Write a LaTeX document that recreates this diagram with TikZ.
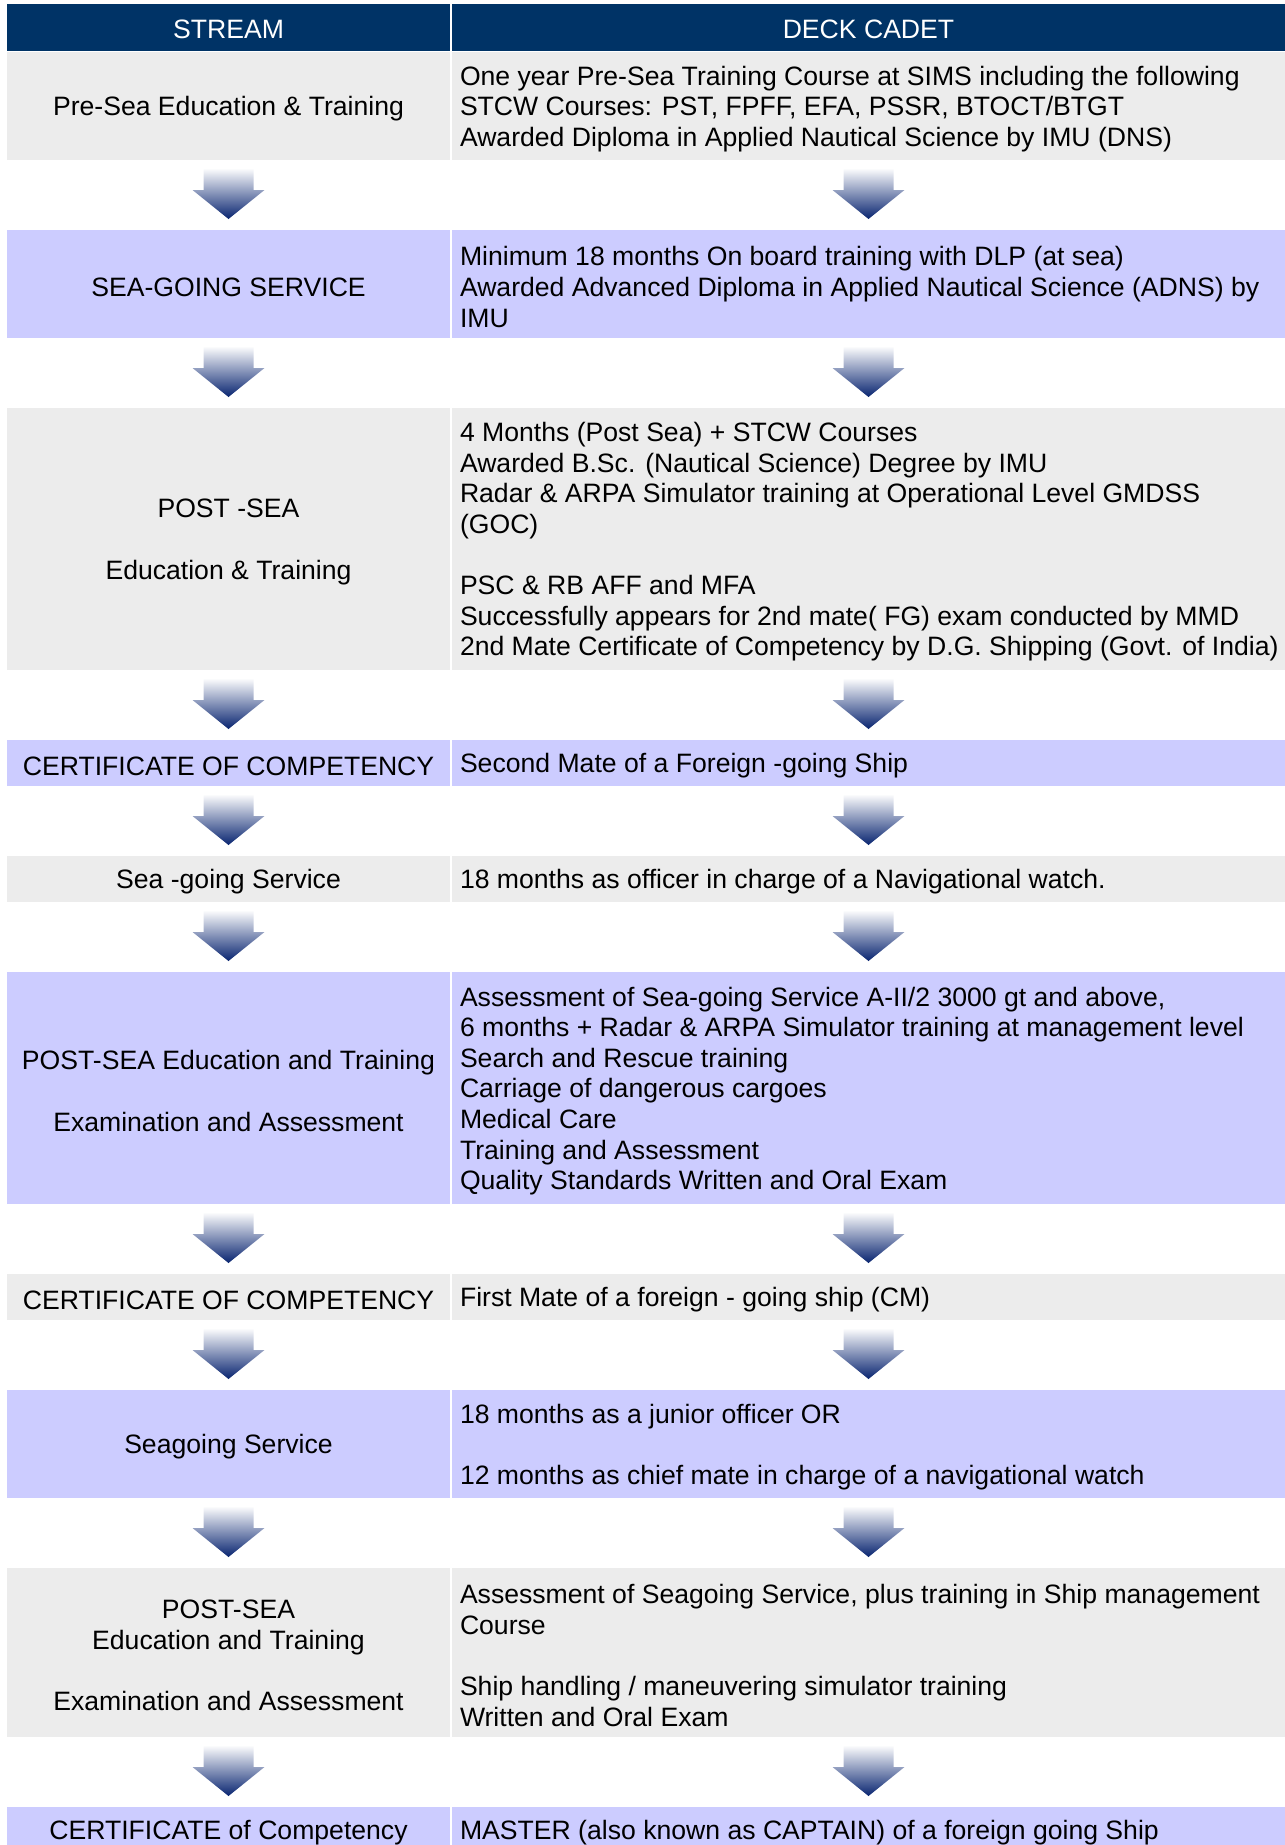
\documentclass[tikz,border=0pt]{standalone}
\usepackage{fontspec}
\setmainfont{Liberation Sans}
\usetikzlibrary{calc}
\definecolor{headblue}{RGB}{0,51,102}
\definecolor{rowgrey}{RGB}{236,236,236}
\definecolor{rowlav}{RGB}{204,204,255}
\definecolor{arrowblue}{RGB}{8,36,112}
\newcommand\flowdown[2]{%
  \shade[flowarrow] ($(#1.south)+(-25,8)$) -- ($(#1.south)+(25,8)$) -- ($(#2.north)+(25,-40)$) -- ($(#2.north)+(36,-40)$) -- ($(#2.north)+(0,-11)$) -- ($(#2.north)+(-36,-40)$) -- ($(#2.north)+(-25,-40)$) -- cycle;}
\begin{document}
\begin{tikzpicture}[x=1pt,y=-1pt,
  every node/.style={inner sep=0pt, outer sep=0pt},
  txt/.style={font=\fontsize{26.6pt}{30.6pt}\selectfont},
  lcell/.style={anchor=north west, minimum width=443pt},
  rcell/.style={anchor=north west, minimum width=833pt},
  ltext/.style={txt, align=center, yshift=-3pt},
  rtext/.style={txt, anchor=west, align=left, yshift=-3pt},
  grey/.style={fill=rowgrey}, lav/.style={fill=rowlav},
  headcell/.style={fill=headblue, minimum height=47pt, anchor=north west},
  headtext/.style={txt, text=white, yshift=-1.5pt},
  flowarrow/.style={top color=white, bottom color=arrowblue}
]
\useasboundingbox (0,0) rectangle (1285,1845);
% header
\node[headcell, minimum width=443pt] (hl) at (7,4) {};
\node[headtext] (hlt) at (hl.center) {STREAM};
\node[headcell, minimum width=833pt] (hr) at (452,4) {};
\node[headtext] (hrt) at (hr.center) {DECK CADET};
% row 1
\node[lcell, grey, minimum height=108pt] (l1) at (7,52) {};
\node[ltext] (s1) at (l1.center) {Pre-Sea Education \& Training};
\node[rcell, grey, minimum height=108pt] (r1) at (452,52) {};
\node[rtext] (t1) at ($(r1.west)+(8,0)$) {One year Pre-Sea Training Course at SIMS including the following\\STCW Courses: PST, FPFF, EFA, PSSR, BTOCT/BTGT\\Awarded Diploma in Applied Nautical Science by IMU (DNS)};
% row 2
\node[lcell, lav, minimum height=108pt] (l2) at (7,230) {};
\node[ltext] (s2) at (l2.center) {SEA-GOING SERVICE};
\node[rcell, lav, minimum height=108pt] (r2) at (452,230) {};
\node[rtext] (t2) at ($(r2.west)+(8,0)$) {Minimum 18 months On board training with DLP (at sea)\\Awarded Advanced Diploma in Applied Nautical Science (ADNS) by\\IMU};
% row 3
\node[lcell, grey, minimum height=262pt] (l3) at (7,408) {};
\node[ltext] (s3) at (l3.center) {POST -SEA\\[30.6pt]Education \& Training};
\node[rcell, grey, minimum height=262pt] (r3) at (452,408) {};
\node[rtext] (t3) at ($(r3.west)+(8,0)$) {4 Months (Post Sea) + STCW Courses\\Awarded B.Sc. (Nautical Science) Degree by IMU\\Radar \& ARPA Simulator training at Operational Level GMDSS\\(GOC)\\[30.6pt]PSC \& RB AFF and MFA\\Successfully appears for 2nd mate( FG) exam conducted by MMD\\2nd Mate Certificate of Competency by D.G. Shipping (Govt. of India)};
% row 4
\node[lcell, lav, minimum height=46pt] (l4) at (7,740) {};
\node[ltext] (s4) at (l4.center) {CERTIFICATE OF COMPETENCY};
\node[rcell, lav, minimum height=46pt] (r4) at (452,740) {};
\node[rtext] (t4) at ($(r4.west)+(8,0)$) {Second Mate of a Foreign -going Ship};
% row 5
\node[lcell, grey, minimum height=46pt] (l5) at (7,856) {};
\node[ltext] (s5) at (l5.center) {Sea -going Service};
\node[rcell, grey, minimum height=46pt] (r5) at (452,856) {};
\node[rtext] (t5) at ($(r5.west)+(8,0)$) {18 months as officer in charge of a Navigational watch.};
% row 6
\node[lcell, lav, minimum height=232pt] (l6) at (7,972) {};
\node[ltext] (s6) at (l6.center) {POST-SEA Education and Training\\[30.6pt]Examination and Assessment};
\node[rcell, lav, minimum height=232pt] (r6) at (452,972) {};
\node[rtext] (t6) at ($(r6.west)+(8,0)$) {Assessment of Sea-going Service A-II/2 3000 gt and above,\\6 months + Radar \& ARPA Simulator training at management level\\Search and Rescue training\\Carriage of dangerous cargoes\\Medical Care\\Training and Assessment\\Quality Standards Written and Oral Exam};
% row 7
\node[lcell, grey, minimum height=46pt] (l7) at (7,1274) {};
\node[ltext] (s7) at (l7.center) {CERTIFICATE OF COMPETENCY};
\node[rcell, grey, minimum height=46pt] (r7) at (452,1274) {};
\node[rtext] (t7) at ($(r7.west)+(8,0)$) {First Mate of a foreign - going ship (CM)};
% row 8
\node[lcell, lav, minimum height=108pt] (l8) at (7,1390) {};
\node[ltext] (s8) at (l8.center) {Seagoing Service};
\node[rcell, lav, minimum height=108pt] (r8) at (452,1390) {};
\node[rtext] (t8) at ($(r8.west)+(8,0)$) {18 months as a junior officer OR\\[30.6pt]12 months as chief mate in charge of a navigational watch};
% row 9
\node[lcell, grey, minimum height=169pt] (l9) at (7,1568) {};
\node[ltext] (s9) at (l9.center) {POST-SEA\\Education and Training\\[30.6pt]Examination and Assessment};
\node[rcell, grey, minimum height=169pt] (r9) at (452,1568) {};
\node[rtext] (t9) at ($(r9.west)+(8,0)$) {Assessment of Seagoing Service, plus training in Ship management\\Course\\[30.6pt]Ship handling / maneuvering simulator training\\Written and Oral Exam};
% row 10
\node[lcell, lav, minimum height=46pt] (l10) at (7,1807) {};
\node[ltext] (s10) at (l10.center) {CERTIFICATE of Competency};
\node[rcell, lav, minimum height=46pt] (r10) at (452,1807) {};
\node[rtext] (t10) at ($(r10.west)+(8,0)$) {MASTER (also known as CAPTAIN) of a foreign going Ship};
% arrows
\foreach \a/\b in {1/2,2/3,3/4,4/5,5/6,6/7,7/8,8/9,9/10}{
  \flowdown{l\a}{l\b}
  \flowdown{r\a}{r\b}
}
\end{tikzpicture}
\end{document}
